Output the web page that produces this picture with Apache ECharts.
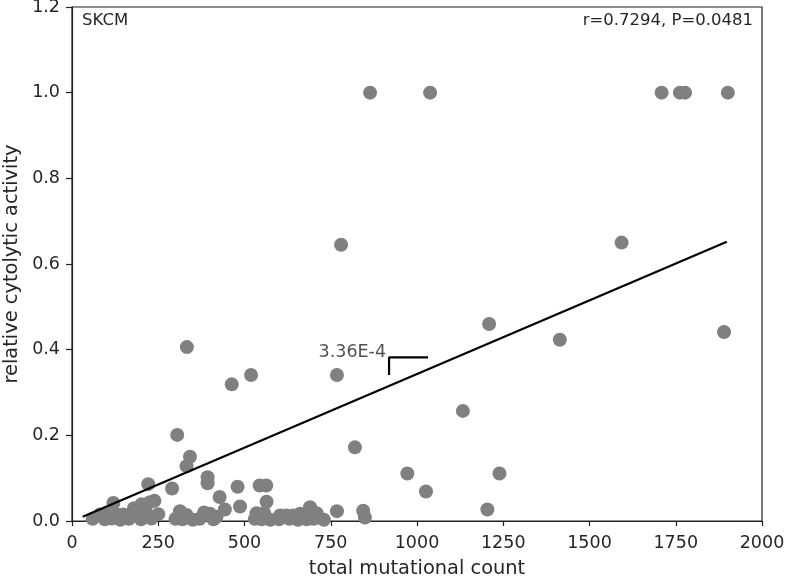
<!DOCTYPE html>
<html>
<head>
<meta charset="utf-8">
<script src="https://cdn.jsdelivr.net/npm/echarts@6/dist/echarts.min.js"></script>
<style>html,body{margin:0;padding:0;background:#fff}#c{width:786px;height:577px}</style>
</head>
<body>
<div id="c"></div>
<script>
// total mutational count
const mutX = [864,1038,1709,1762,1777,1901,
  780,1593,1890,1209,1414,333,768,519,463,1133,820,305,972,1026,1239,1204,768,844,849,
  342,332,221,290,393,393,480,544,563,564,428,443,487,120,239,226,202,180,313,332,383,400,419,535,557,690,709,713,603,622,642,661,
  81,100,130,149,187,216,250,60,95,115,140,165,200,230,300,320,350,370,410,530,550,575,600,630,655,680,700,730];
// relative cytolytic activity
const cytY = [1.0,1.0,1.0,1.0,1.0,1.0,
  0.645,0.650,0.441,0.460,0.423,0.406,0.341,0.341,0.319,0.257,0.172,0.201,0.111,0.069,0.111,0.027,0.023,0.024,0.008,
  0.150,0.128,0.086,0.076,0.102,0.088,0.080,0.083,0.083,0.045,0.056,0.027,0.034,0.042,0.047,0.044,0.039,0.030,0.023,0.014,0.020,0.017,0.010,0.018,0.018,0.032,0.018,0.008,0.013,0.013,0.013,0.017,
  0.015,0.015,0.015,0.015,0.017,0.017,0.016,0.005,0.004,0.006,0.003,0.005,0.004,0.006,0.005,0.004,0.003,0.005,0.004,0.005,0.004,0.003,0.004,0.005,0.003,0.004,0.005,0.003];
// regression fit line endpoints
const fitX = [31, 1898];
const fitY = [0.010, 0.652];
// slope bracket
const bracketX = [919, 919, 1032];
const bracketY = [0.341, 0.382, 0.382];
const slopeText = '3.36E-4';
const xTicks = [0,250,500,750,1000,1250,1500,1750,2000];
const yTicks = [0.0,0.2,0.4,0.6,0.8,1.0,1.2];
const panelLabel = 'SKCM';
const statText = 'r=0.7294, P=0.0481';

const FONT = 'DejaVu Sans';
const txt = '#262626';
const chart = echarts.init(document.getElementById('c'));
const pts = mutX.map((x,i)=>[x,cytY[i]]);
chart.setOption({
  animation:false,
  backgroundColor:'#fff',
  grid:{left:72,right:24,top:7,bottom:56,show:true,borderColor:'#222',borderWidth:1.2,backgroundColor:'transparent',
    containLabel:false,outerBoundsMode:'none'},
  xAxis:{type:'value',min:0,max:2000,interval:250,
    name:'total mutational count',nameLocation:'middle',nameGap:38,
    nameTextStyle:{fontFamily:FONT,fontSize:19.4,color:txt},
    axisLine:{show:true,lineStyle:{color:'#222',width:1.2}},
    axisTick:{show:true,length:5,lineStyle:{color:'#222',width:1.2}},
    axisLabel:{fontFamily:FONT,fontSize:17.5,color:txt,margin:13,formatter:v=>xTicks.includes(v)?String(v):''},
    splitLine:{show:false}},
  yAxis:{type:'value',min:0,max:1.2,interval:0.2,
    name:'relative cytolytic activity',nameLocation:'middle',nameGap:44,
    nameTextStyle:{fontFamily:FONT,fontSize:19.4,color:txt},
    axisLine:{show:true,lineStyle:{color:'#222',width:1.2}},
    axisTick:{show:true,length:6,lineStyle:{color:'#222',width:1.2}},
    axisLabel:{fontFamily:FONT,fontSize:17.5,color:txt,margin:12,formatter:v=>{const t=yTicks.find(k=>Math.abs(k-v)<1e-9);return t===undefined?'':t.toFixed(1);}},
    splitLine:{show:false}},
  series:[
    {type:'scatter',data:pts,symbolSize:14,itemStyle:{color:'#808080',opacity:1},z:2},
    {type:'line',data:fitX.map((x,i)=>[x,fitY[i]]),symbol:'none',lineStyle:{color:'#000',width:2.2},z:3},
    {type:'line',data:bracketX.map((x,i)=>[x,bracketY[i]]),symbol:'none',lineStyle:{color:'#000',width:2.2},z:3},
    {type:'scatter',data:[[bracketX[1],bracketY[1]]],symbolSize:0,z:4,
      label:{show:true,formatter:slopeText,position:'left',distance:3,offset:[0,-5],
        fontFamily:FONT,fontSize:17.5,color:txt}},
  ],
  graphic:[
    {type:'text',left:82,top:12,style:{text:panelLabel,font:'16.5px "DejaVu Sans"',fill:txt}},
    {type:'text',right:33,top:12,style:{text:statText,font:'16.5px "DejaVu Sans"',fill:txt}}
  ]
});
</script>
</body>
</html>
